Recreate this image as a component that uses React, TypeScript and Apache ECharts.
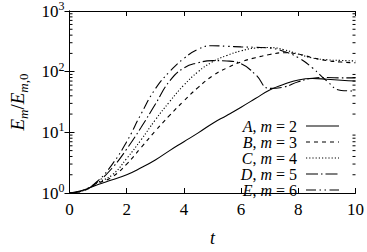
import React, { useEffect, useRef } from "react";
import * as echarts from "echarts";

const times = [0, 0.5, 1, 1.5, 2, 2.5, 3, 3.5, 4, 4.5, 5, 5.5, 6, 6.5, 7, 7.5, 8, 8.5, 9, 9.5, 10];
const seriesA = [1, 1.12, 1.38, 1.65, 2.0, 2.6, 3.5, 5.0, 7.0, 9.8, 14, 19, 26, 36, 50, 62, 73, 77, 75, 72, 70];
const seriesB = [1, 1.1, 1.45, 1.85, 3.0, 5.6, 10.5, 19, 33, 55, 85, 115, 145, 170, 192, 205, 195, 170, 152, 144, 140];
const seriesC = [1, 1.1, 1.5, 2.0, 3.7, 7.5, 16, 32, 60, 100, 145, 185, 220, 245, 250, 230, 195, 168, 157, 153, 150];
const seriesD = [1, 1.1, 1.55, 2.6, 5.3, 12, 29, 70, 115, 140, 152, 150, 135, 90, 53, 56, 68, 78, 80, 79, 79];
const seriesE = [1, 1.12, 1.6, 3.0, 7, 20, 52, 100, 165, 235, 268, 262, 256, 252, 245, 215, 170, 115, 70, 49, 48];

const seriesNames = ["A", "B", "C", "D", "E"];
const modeNumbers = ["2", "3", "4", "5", "6"];
const xTicks = [0, 2, 4, 6, 8, 10];
const yDecades = [1, 10, 100];
const minorMantissas = [2, 3, 4, 5, 6, 7, 8, 9];

const FONT = "Liberation Serif";

export default function App() {
  const ref = useRef<HTMLDivElement>(null);
  useEffect(() => {
    if (!ref.current) return;
    const chart = echarts.init(ref.current, undefined, { renderer: "svg" });
    const allValues = [seriesA, seriesB, seriesC, seriesD, seriesE];
    const dashes: any[] = ["solid", [4, 4], [1.2, 2], [12, 3, 1.5, 3], [10, 3.5, 1.5, 3.5, 1.5, 3.5]];
    const minorVals: number[] = [];
    yDecades.forEach((d) => minorMantissas.forEach((m) => minorVals.push(d * m)));

    const lineSeries = allValues.map((vals, i) => ({
      name: seriesNames[i],
      type: "line",
      data: times.map((t, j) => [t, vals[j]]),
      showSymbol: false,
      symbol: "none",
      smooth: true,
      lineStyle: { color: "#000", width: 1.1, type: dashes[i] },
      itemStyle: { color: "#000" },
      z: 3,
    }));

    const richText = {
      i: { fontFamily: FONT, fontStyle: "italic", fontSize: 16, lineHeight: 15, color: "#000" },
      r: { fontFamily: FONT, fontSize: 16, lineHeight: 15, color: "#000" },
    };

    const option: any = {
      animation: false,
      grid: { left: 67, right: 7, top: 9, bottom: 50 },
      xAxis: [
        {
          type: "value",
          min: 0,
          max: 10,
          interval: 2,
          name: "t",
          nameLocation: "middle",
          nameGap: 36,
          nameTextStyle: { fontFamily: FONT, fontStyle: "italic", fontSize: 18, color: "#000" },
          axisLine: { lineStyle: { color: "#000", width: 1 } },
          axisTick: { inside: true, length: 5, lineStyle: { color: "#000" } },
          axisLabel: {
            margin: 8,
            fontFamily: FONT,
            fontSize: 17,
            color: "#000",
            formatter: (v: number) => (xTicks.includes(v) ? String(v) : ""),
          },
          splitLine: { show: false },
        },
        {
          type: "value",
          position: "top",
          min: 0,
          max: 10,
          interval: 2,
          axisLine: { lineStyle: { color: "#000", width: 1 } },
          axisTick: { inside: true, length: 5, lineStyle: { color: "#000" } },
          axisLabel: { show: false },
          splitLine: { show: false },
        },
      ],
      yAxis: [
        {
          type: "log",
          logBase: 10,
          min: 1,
          max: 1000,
          name: "{i|E}{si|m}{r|/}{i|E}{si|m}{sr|,0}",
          nameLocation: "middle",
          nameRotate: 90,
          nameGap: 40,
          nameTextStyle: {
            fontFamily: FONT,
            fontSize: 19,
            color: "#000",
            rich: {
              i: { fontFamily: FONT, fontStyle: "italic", fontSize: 19, lineHeight: 24, color: "#000" },
              r: { fontFamily: FONT, fontSize: 19, lineHeight: 24, color: "#000" },
              si: { fontFamily: FONT, fontStyle: "italic", fontSize: 13, lineHeight: 13, verticalAlign: "bottom", color: "#000" },
              sr: { fontFamily: FONT, fontSize: 13, lineHeight: 13, verticalAlign: "bottom", color: "#000" },
            },
          },
          axisLine: { lineStyle: { color: "#000", width: 1 } },
          axisTick: { inside: true, length: 5, lineStyle: { color: "#000" } },
          axisLabel: {
            margin: 5,
            formatter: (v: number) => `{b|10}{s|${Math.round(Math.log10(v))}}`,
            rich: {
              b: { fontFamily: FONT, fontSize: 17, lineHeight: 22, color: "#000" },
              s: { fontFamily: FONT, fontSize: 12, lineHeight: 12, verticalAlign: "top", color: "#000" },
            },
          },
          splitLine: { show: false },
        },
        {
          type: "log",
          logBase: 10,
          min: 1,
          max: 1000,
          position: "right",
          axisLine: { lineStyle: { color: "#000", width: 1 } },
          axisTick: { inside: true, length: 5, lineStyle: { color: "#000" } },
          axisLabel: { show: false },
          splitLine: { show: false },
        },
      ],
      legend: {
        data: seriesNames,
        orient: "vertical",
        left: 224,
        top: 113,
        align: "right",
        itemWidth: 33,
        itemHeight: 14,
        itemGap: 0,
        padding: 5,
        itemStyle: { opacity: 0 },
        lineStyle: { width: 1.1 },
        textStyle: {
          fontFamily: FONT,
          fontSize: 16,
          lineHeight: 15,
          color: "#000",
          width: 68,
          padding: [0, 4, 0, 0],
          rich: richText,
        },
        formatter: (name: string) => {
          const k = seriesNames.indexOf(name);
          return `{i|${name}}{r|, }{i|m}{r| = ${modeNumbers[k]}}`;
        },
      },
      series: [
        ...lineSeries,
        {
          type: "custom",
          silent: true,
          xAxisIndex: 0,
          yAxisIndex: 0,
          data: minorVals.map((v) => [0, v]),
          renderItem: (params: any, api: any) => {
            const y = api.value(1);
            const p0 = api.coord([0, y]);
            const p1 = api.coord([10, y]);
            return {
              type: "group",
              children: [
                { type: "line", shape: { x1: p0[0], y1: p0[1], x2: p0[0] + 3, y2: p0[1] }, style: { stroke: "#000", lineWidth: 1 } },
                { type: "line", shape: { x1: p1[0] - 3, y1: p1[1], x2: p1[0], y2: p1[1] }, style: { stroke: "#000", lineWidth: 1 } },
              ],
            };
          },
          z: 2,
        },
      ],
    };
    chart.setOption(option);
    return () => chart.dispose();
  }, []);
  return (
    <div
      ref={ref}
      style={{ position: "fixed", left: 0, top: 0, width: 367, height: 252, background: "#fff" }}
    />
  );
}
